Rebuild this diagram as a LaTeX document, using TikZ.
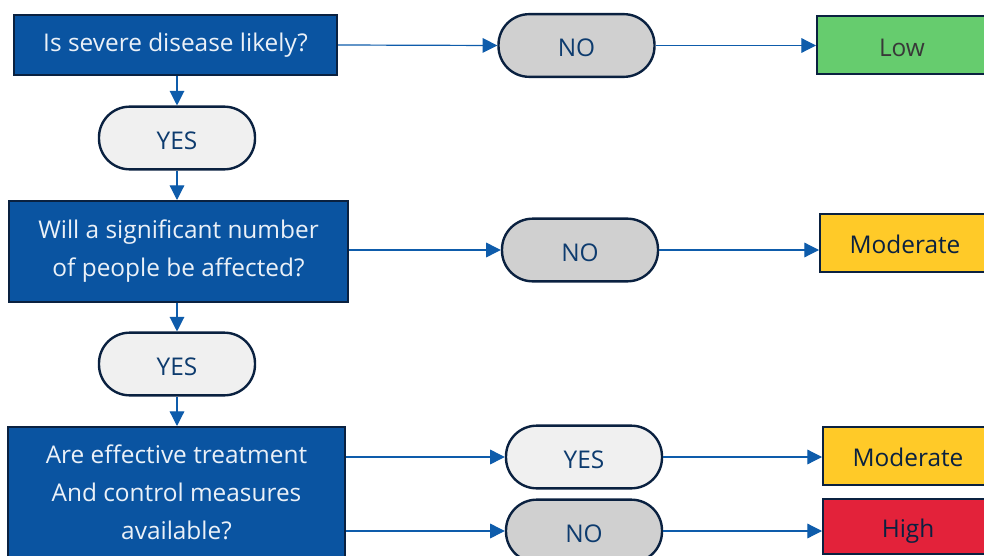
\documentclass[tikz,border=0pt]{standalone}
\usepackage{fontspec}
\setmainfont{Open Sans}
\usepackage{tikz}
\usetikzlibrary{arrows.meta}

\definecolor{qblue}{HTML}{0A54A1}
\definecolor{qedge}{HTML}{0A2140}
\definecolor{qtext}{HTML}{0D3B6E}
\definecolor{qarrow}{HTML}{0E5CAB}
\definecolor{qno}{HTML}{D0D0D0}
\definecolor{qyes}{HTML}{F0F0F0}
\definecolor{qlow}{HTML}{66CC6E}
\definecolor{qmod}{HTML}{FFCA28}
\definecolor{qhigh}{HTML}{E3223A}

\begin{document}
\begin{tikzpicture}[x=0.75pt, y=-0.75pt,
    every node/.style={font=\fontsize{18.3}{28.5}\selectfont, inner sep=0pt},
    question/.style={draw=qedge, line width=1.5pt, fill=qblue, text=white!92!qblue, align=center},
    answer/.style={draw=qedge, line width=1.8pt, rounded corners=23pt, text=qtext,
        text height=17pt, text depth=0pt, minimum width=117pt, minimum height=47pt},
    risk/.style={draw=qedge, line width=1.5pt, text height=16pt, text depth=0pt,
        minimum width=127.5pt, minimum height=43.5pt},
    arr/.style={draw=qarrow, line width=0.9pt, -{Triangle[length=11pt,width=11pt]}}]
    \useasboundingbox (0,0) rectangle (984,556);
    \clip (0,0) rectangle (984,556);

    % Questions (left column)
    \node[question, minimum width=242.25pt, minimum height=45pt] (q1) at (175.5,45) {Is severe disease likely?};
    \node[question, minimum width=254.25pt, minimum height=75.75pt] (q2) at (178.5,251.5) {Will a significant number\\of people be affected?};
    \node[question, minimum width=252.75pt, minimum height=97.5pt] (q3) at (176.5,492) {Are effective treatment\\And control measures\\available?};

    % Answers
    \node[answer, fill=qyes] (yes1) at (177,138) {YES};
    \node[answer, fill=qyes] (yes2) at (177,364) {YES};
    \node[answer, fill=qno] (no1) at (576.5,45.5) {NO};
    \node[answer, fill=qno] (no2) at (580,250) {NO};
    \node[answer, fill=qyes] (yes3) at (584,457) {YES};
    \node[answer, fill=qno] (no3) at (584,531) {NO};

    % Risk levels (right column)
    \node[risk, fill=qlow, text=black!78] (low) at (902,45.5) {Low};
    \node[risk, fill=qmod, text=qedge] (mod1) at (905,243) {Moderate};
    \node[risk, fill=qmod, text=qedge] (mod2) at (908,456) {Moderate};
    \node[risk, fill=qhigh, text=qedge, minimum height=41.25pt] (high) at (908,526.5) {High};

    % Down the left column
    \draw[arr] (yes1.north |- q1.south) -- (yes1.north);
    \draw[arr] (yes1.south) -- (yes1.south |- q2.north);
    \draw[arr] (yes2.north |- q2.south) -- (yes2.north);
    \draw[arr] (yes2.south) -- (yes2.south |- q3.north);

    % Across to the answers
    \draw[arr] (q1.east) -- (no1.west);
    \draw[arr] (q2.east |- no2.west) -- (no2.west);
    \draw[arr] (q3.east |- yes3.west) -- (yes3.west);
    \draw[arr] (q3.east |- no3.west) -- (no3.west);

    % Answers to risk levels
    \draw[arr] (no1.east) -- (low.west);
    \draw[arr] (no2.east) -- (no2.east -| mod1.west);
    \draw[arr] (yes3.east) -- (yes3.east -| mod2.west);
    \draw[arr] (no3.east) -- (no3.east -| high.west);
\end{tikzpicture}
\end{document}
